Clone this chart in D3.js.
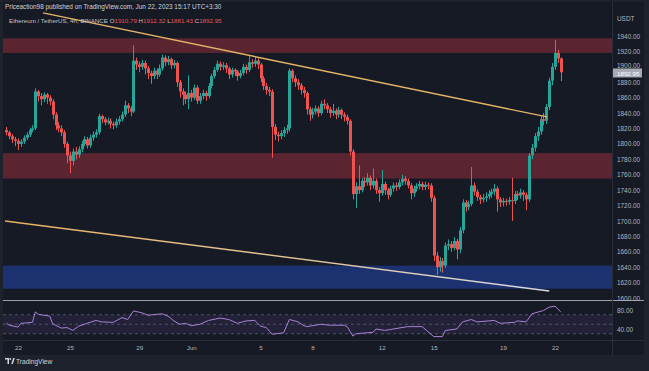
<!DOCTYPE html>
<html><head><meta charset="utf-8">
<script src="https://cdn.jsdelivr.net/npm/d3@7"></script>
<style>html,body{margin:0;padding:0;background:#1e222d;overflow:hidden}
text{font-family:"Liberation Sans",Arial,sans-serif}</style>
</head><body><svg id="c" width="649" height="371"></svg>
<script>
// ---------- DATA ----------
const candleStart = "2023-05-21T08:00:00Z"; // first 4h candle
const candleHours = 4;
const firstOpen = 1818;
const closes = [1815,1810,1806,1804,1800,1803,1808,1812,1818,1820,
1868,1862,1858,1864,1860,1855,1838,1824,1820,1815,
1800,1785,1778,1790,1786,1793,1800,1806,1798,1808,
1812,1815,1836,1832,1828,1830,1826,1824,1829,1832,
1838,1850,1846,1842,1908,1903,1900,1905,1898,1892,
1888,1895,1890,1898,1912,1906,1910,1902,1905,1880,
1868,1864,1858,1866,1860,1873,1856,1862,1866,1862,
1875,1888,1896,1904,1900,1902,1898,1890,1896,1894,
1888,1892,1900,1896,1906,1904,1908,1903,1885,1875,
1870,1868,1822,1812,1810,1814,1818,1820,1895,1885,
1880,1876,1870,1866,1845,1838,1842,1846,1840,1852,
1850,1845,1840,1843,1838,1844,1838,1835,1830,1790,
1735,1745,1740,1752,1750,1756,1746,1752,1740,1736,
1748,1740,1734,1742,1746,1744,1750,1755,1752,1746,
1736,1742,1745,1748,1744,1747,1746,1730,1655,1640,
1648,1642,1668,1670,1665,1674,1663,1688,1724,1718,
1722,1746,1738,1731,1728,1730,1732,1735,1738,1742,
1728,1724,1726,1725,1727,1726,1735,1733,1737,1734,
1728,1785,1795,1810,1816,1832,1830,1848,1882,1900,
1918,1910.79,1892.95];
const highs = [1822,1817,1813,1809,1807,1806,1811,1815,1821,1824,
1872,1870,1866,1867,1866,1863,1858,1841,1828,1824,
1818,1803,1790,1794,1796,1797,1804,1810,1809,1812,
1816,1819,1839,1838,1835,1834,1833,1829,1833,1836,
1842,1856,1853,1849,1928,1912,1907,1909,1908,1901,
1895,1899,1898,1903,1916,1915,1914,1912,1909,1907,
1883,1872,1868,1889,1870,1877,1876,1866,1870,1869,
1879,1891,1900,1908,1907,1906,1905,1900,1899,1898,
1896,1896,1904,1903,1915,1910,1913,1911,1905,1888,
1879,1874,1871,1826,1816,1818,1822,1825,1898,1897,
1889,1884,1879,1874,1868,1848,1847,1850,1849,1856,
1858,1853,1848,1852,1846,1848,1846,1841,1838,1832,
1793,1750,1772,1756,1757,1762,1759,1768,1755,1744,
1766,1751,1743,1746,1750,1750,1754,1760,1758,1755,
1749,1746,1749,1752,1751,1751,1750,1749,1733,1660,
1653,1652,1672,1676,1674,1679,1677,1692,1728,1727,
1726,1770,1750,1741,1734,1735,1737,1740,1742,1748,
1745,1731,1730,1729,1731,1756,1739,1739,1742,1740,
1737,1788,1800,1814,1822,1837,1840,1852,1886,1905,
1935,1922,1912.32];
const lows = [1811,1806,1801,1797,1792,1796,1800,1805,1809,1815,
1818,1855,1850,1854,1852,1850,1832,1818,1815,1810,
1795,1775,1762,1772,1780,1782,1789,1797,1794,1795,
1804,1808,1812,1827,1824,1825,1820,1819,1821,1825,
1829,1835,1840,1836,1840,1896,1893,1896,1890,1884,
1878,1884,1884,1887,1895,1901,1902,1897,1898,1874,
1860,1850,1852,1845,1855,1857,1852,1852,1858,1856,
1859,1872,1885,1893,1895,1896,1892,1884,1886,1888,
1882,1885,1889,1891,1893,1899,1900,1897,1880,1870,
1864,1862,1782,1805,1803,1806,1809,1813,1816,1880,
1874,1870,1864,1860,1838,1830,1833,1838,1835,1837,
1845,1840,1834,1836,1832,1834,1832,1829,1825,1785,
1728,1717,1735,1737,1744,1746,1740,1742,1735,1725,
1733,1734,1728,1731,1738,1739,1741,1746,1747,1742,
1728,1731,1738,1741,1740,1740,1741,1725,1648,1630,
1634,1633,1639,1662,1660,1662,1650,1658,1684,1712,
1714,1719,1733,1726,1722,1724,1725,1728,1730,1733,
1712,1718,1719,1720,1721,1700,1722,1727,1729,1726,
1714,1725,1780,1790,1804,1812,1824,1826,1844,1876,
1896,1905,1881.43];

// RSI (candle index, value)
const rsiIndex = [0,1,4,5,9,10,11,15,16,19,21,23,25,28,31,33,37,40,42,44,47,49,54,56,58,60,62,64,67,70,74,77,80,83,86,88,90,92,96,98,101,103,104,109,112,117,118,119,120,121,127,128,131,133,139,144,148,151,152,156,158,161,163,169,171,176,177,180,182,186,188,190,192];
const rsiValue = [52,48,44,52,54,76,71,67,51,42,43,37,46,52,58,55,54,64,60,78,74,69,72,67,57,50,52,47,50,58,63,60,52,57,58,46,43,29,32,60,55,47,45,50,48,48,45,35,25,30,33,40,37,39,45,45,24,24,37,40,55,60,55,58,52,54,57,55,72,79,86,88,76];

// Zones (price)
const zoneTop = [1937, 1788, 1642];
const zoneBottom = [1918, 1755, 1612];
const zoneKind = ["supply", "supply", "demand"];

// Trendlines [time, price]
const upperLine = [["2023-05-23T10:40:00Z", 1970], ["2023-06-21T13:00:00Z", 1835]];
const lowerLine = [["2023-05-21T06:00:00Z", 1700], ["2023-06-21T16:00:00Z", 1609]];

const priceTicks = [1600,1620,1640,1660,1680,1700,1720,1740,1760,1780,1800,1820,1840,1860,1880,1900,1920,1940];
const rsiTicks = [40, 80];
const rsiLevels = [70, 50, 30];
const dateTicks = ["2023-05-22","2023-05-25","2023-05-29","2023-06-01","2023-06-05","2023-06-08","2023-06-12","2023-06-15","2023-06-19","2023-06-22"];
const dateLabels = ["22","25","29","Jun","5","8","12","15","19","22"];

const headerTitle = "Priceaction98 published on TradingView.com, Jun 22, 2023 15:17 UTC+3:30";
const symbolName = "Ethereum / TetherUS, 4h, BINANCE";
const ohlcLabels = ["O","H","L","C"];
const ohlcValues = ["1910.79","1912.32","1881.43","1892.95"];
const lastPrice = 1892.95;

// ---------- LAYOUT ----------
const W = 649, H = 371;
const L = 3, R = 612, RA = 644; // pane left, pane right, axis right
const mainTop = 2, mainBot = 300, rsiTop = 301, rsiBot = 340, axisBot = 355;
const BG = "#161a25", UP = "#26a69a", DN = "#ef5350";

const svg = d3.select("#c");
svg.append("rect").attr("width", W).attr("height", H).attr("fill", "#1e222d");
svg.append("rect").attr("x", L).attr("y", mainTop).attr("width", RA - L).attr("height", axisBot - mainTop).attr("fill", BG);

const x = d3.scaleUtc().domain([new Date("2023-05-22T00:00:00Z"), new Date("2023-06-22T00:00:00Z")]).range([18, 555]);
const y = d3.scaleLinear().domain([1600, 1940]).range([298, 36]);
const yr = d3.scaleLinear().domain([40, 80]).range([329, 310]);

const defs = svg.append("defs");
defs.append("clipPath").attr("id", "cm").append("rect").attr("x", L).attr("y", 0).attr("width", R - L).attr("height", mainBot);
defs.append("clipPath").attr("id", "cr").append("rect").attr("x", L).attr("y", rsiTop).attr("width", R - L).attr("height", rsiBot - rsiTop);
const g1 = defs.append("linearGradient").attr("id", "lg").attr("x1", "0%").attr("x2", "100%");
g1.append("stop").attr("offset", "0%").attr("stop-color", "#e7b060");
g1.append("stop").attr("offset", "55%").attr("stop-color", "#e2c79a");
g1.append("stop").attr("offset", "100%").attr("stop-color", "#d9d6e6");

const main = svg.append("g").attr("clip-path", "url(#cm)");

// zones
main.selectAll("rect.zone").data(zoneTop).join("rect").attr("class", "zone")
  .attr("x", L).attr("width", R - L)
  .attr("y", d => y(d))
  .attr("height", (d, i) => y(zoneBottom[i]) - y(d))
  .attr("fill", (d, i) => zoneKind[i] === "supply" ? "#5a2531" : "#1b3170");

// candles
const t0 = new Date(candleStart).getTime();
const candles = closes.map((c, i) => ({
  t: new Date(t0 + i * candleHours * 3600e3),
  o: i === 0 ? firstOpen : closes[i - 1], h: highs[i], l: lows[i], c
}));
const bw = 2;
const cg = main.append("g");
cg.selectAll("line").data(candles).join("line")
  .attr("x1", d => Math.round(x(d.t)) + 0.5).attr("x2", d => Math.round(x(d.t)) + 0.5)
  .attr("y1", d => y(d.h)).attr("y2", d => y(d.l))
  .attr("stroke", d => d.c >= d.o ? UP : DN).attr("stroke-width", 1);
cg.selectAll("rect").data(candles).join("rect")
  .attr("x", d => Math.round(x(d.t)) + 0.5 - bw / 2 - 0.5).attr("width", bw + 1)
  .attr("y", d => y(Math.max(d.o, d.c)))
  .attr("height", d => Math.max(1, Math.abs(y(d.o) - y(d.c))))
  .attr("fill", d => d.c >= d.o ? UP : DN);

// trendlines
const lineGen = d3.line().x(d => x(new Date(d[0]))).y(d => y(d[1]));
svg.append("path").attr("d", lineGen(upperLine)).attr("stroke", "#e5b467").attr("stroke-width", 1.4).attr("fill", "none");
svg.append("path").attr("d", lineGen(lowerLine)).attr("stroke", "url(#lg)").attr("stroke-width", 1.4).attr("fill", "none");

// pane separator
svg.append("line").attr("x1", L).attr("x2", RA).attr("y1", rsiTop - 0.5).attr("y2", rsiTop - 0.5).attr("stroke", "#9a9ea8").attr("stroke-width", 1);

// RSI pane
const rsiG = svg.append("g").attr("clip-path", "url(#cr)");
rsiG.append("rect").attr("x", L).attr("width", R - L).attr("y", yr(70)).attr("height", yr(30) - yr(70)).attr("fill", "rgba(126,87,194,0.12)");
rsiG.selectAll("line.lv").data(rsiLevels).join("line").attr("class", "lv")
  .attr("x1", L).attr("x2", R).attr("y1", d => yr(d)).attr("y2", d => yr(d))
  .attr("stroke", "#5d6070").attr("stroke-dasharray", "3,3").attr("stroke-width", 0.8);
const rsiLine = d3.line().x(d => x(new Date(t0 + d[0] * candleHours * 3600e3))).y(d => yr(d[1]));
rsiG.append("path").attr("d", rsiLine(rsiIndex.map((v, i) => [v, rsiValue[i]])))
  .attr("fill", "none").attr("stroke", "#a982d6").attr("stroke-width", 1);

// axis frame lines
svg.append("line").attr("x1", R + 0.5).attr("x2", R + 0.5).attr("y1", mainTop).attr("y2", axisBot).attr("stroke", "#2a2e39");
svg.append("line").attr("x1", L).attr("x2", RA).attr("y1", rsiBot + 0.5).attr("y2", rsiBot + 0.5).attr("stroke", "#2a2e39");

// price axis
const pa = svg.append("g").attr("transform", `translate(${R},0)`)
  .call(d3.axisRight(y).tickValues(priceTicks).tickFormat(d3.format(".2f")).tickSize(0).tickPadding(5));
pa.select(".domain").remove();
pa.selectAll("text").attr("fill", "#b2b5be").attr("font-size", 6.4).attr("font-family", "Liberation Sans, Arial, sans-serif")
  .attr("dy", d => d === 1900 ? "0.12em" : "0.32em");

const ra = svg.append("g").attr("transform", `translate(${R},0)`)
  .call(d3.axisRight(yr).tickValues(rsiTicks).tickFormat(d3.format(".2f")).tickSize(0).tickPadding(5));
ra.select(".domain").remove();
ra.selectAll("text").attr("fill", "#b2b5be").attr("font-size", 6.4).attr("font-family", "Liberation Sans, Arial, sans-serif");

svg.append("text").attr("x", R + 5).attr("y", 21).text("USDT").attr("fill", "#b2b5be").attr("font-size", 6.4);

// last price label
const ly = y(lastPrice);
svg.append("rect").attr("x", R + 1).attr("y", ly - 3.8).attr("width", 29).attr("height", 9).attr("fill", "#a7aab3");
svg.append("text").attr("x", R + 5).attr("y", ly + 3.6).text(d3.format(".2f")(lastPrice)).attr("fill", "#ffffff").attr("font-size", 6.2);

// time axis
const ta = svg.append("g").attr("transform", `translate(0,${rsiBot})`)
  .call(d3.axisBottom(x).tickValues(dateTicks.map(d => new Date(d + "T00:00:00Z"))).tickFormat((d, i) => dateLabels[i]).tickSize(0).tickPadding(6));
ta.select(".domain").remove();
ta.selectAll("text").attr("fill", "#b2b5be").attr("font-size", 6.2).attr("font-family", "Liberation Sans, Arial, sans-serif");

// header
svg.append("text").attr("x", 5).attr("y", 9).text(headerTitle).attr("fill", "#d1d4dc").attr("font-size", 6.4);
const hdr = svg.append("text").attr("x", 9).attr("y", 22.5).attr("font-size", 6.2);
hdr.append("tspan").text(symbolName + "  ").attr("fill", "#c0c3cc");
ohlcLabels.forEach((lab, i) => {
  hdr.append("tspan").text((i ? "  " : "") + lab).attr("fill", "#c0c3cc");
  hdr.append("tspan").text(ohlcValues[i]).attr("fill", DN);
});

// footer logo
const lg = svg.append("g").attr("transform", "translate(5,358)");
lg.append("path").attr("d", "M0,0 H4 V6 H2.5 V1.5 H0 Z").attr("fill", "#d1d4dc");
lg.append("circle").attr("cx", 5.3).attr("cy", 1).attr("r", 0.9).attr("fill", "#d1d4dc");
lg.append("path").attr("d", "M6.2,6 L8.2,0 H9.8 L7.8,6 Z").attr("fill", "#d1d4dc");
svg.append("text").attr("x", 16).attr("y", 364).text("TradingView").attr("fill", "#d1d4dc").attr("font-size", 6.6);
</script></body></html>
